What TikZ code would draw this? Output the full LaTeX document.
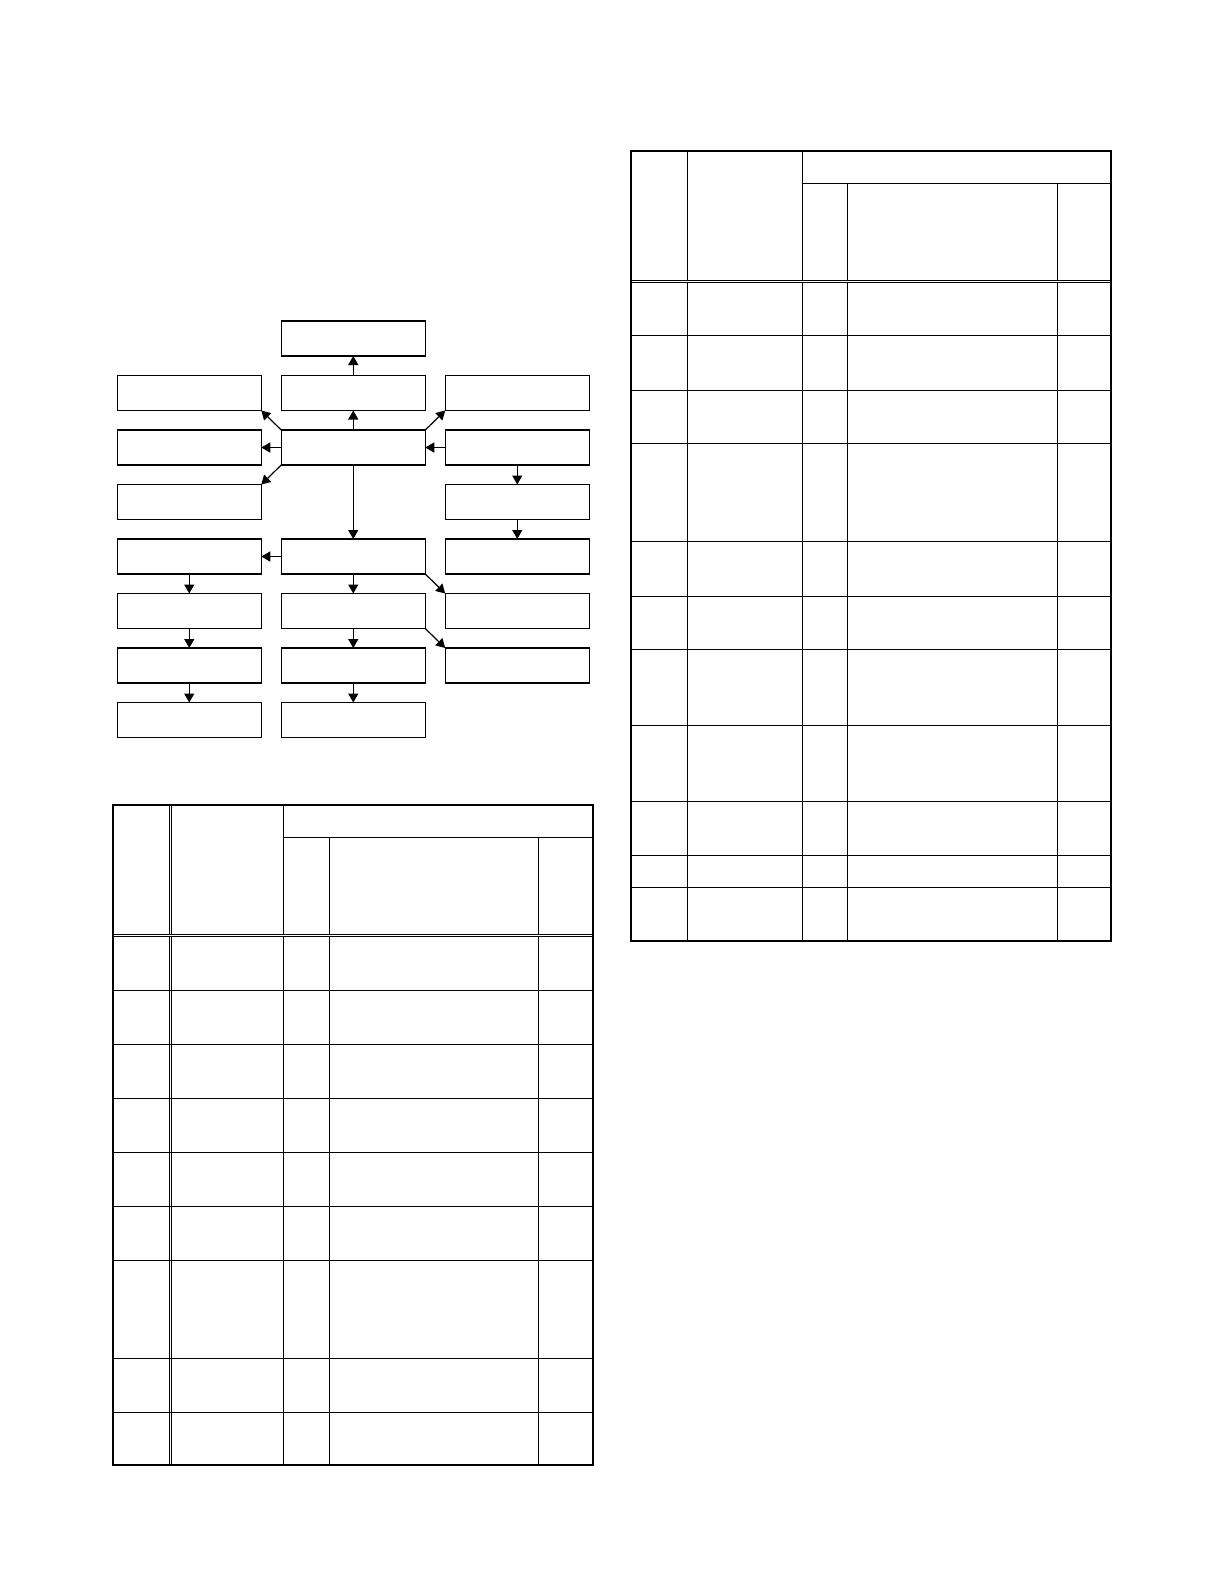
\documentclass[tikz,border=0pt]{standalone}
\usetikzlibrary{positioning}
\usetikzlibrary{arrows.meta}

\begin{document}
\begin{tikzpicture}[x=0.5bp, y=-0.5bp,
    box/.style = {draw, rectangle, line width=0.6bp, minimum width=72bp, minimum height=17.5bp, inner sep=0pt, outer sep=0pt},
    arr/.style = {-{Triangle[length=4.5bp, width=5bp]}, line width=0.6bp},
    frame/.style = {line width=1.1bp},
    rule/.style = {line width=0.5bp},
    twin/.style = {double, line width=0.4bp, double distance=0.5bp},
    node distance = 9.75bp and 10bp]
      \useasboundingbox (0,0) rectangle (1224,1584);
      \node[box](c) at (353.25,447.5) {};
      \node[box](m1)[above=of c]{};
      \node[box](m0)[above=of m1]{};
      \node[box](l2)[left=of c]{};
      \node[box](l1)[above=of l2]{};
      \node[box](l3)[below=of l2]{};
      \node[box](l4)[below=of l3]{};
      \node[box](l5)[below=of l4]{};
      \node[box](l6)[below=of l5]{};
      \node[box](l7)[below=of l6]{};
      \node[box](m4)[right=of l4]{};
      \node[box](m5)[below=of m4]{};
      \node[box](m6)[below=of m5]{};
      \node[box](m7)[below=of m6]{};
      \node[box](r2)[right=of c]{};
      \node[box](r1)[above=of r2]{};
      \node[box](r3)[below=of r2]{};
      \node[box](r4)[below=of r3]{};
      \node[box](r5)[below=of r4]{};
      \node[box](r6)[below=of r5]{};
      \draw[arr] (m1) -- (m0);
      \draw[arr] (c) -- (m1);
      \draw[arr] (c) -- (l2);
      \draw[arr] (c.north west) -- (l1.south east);
      \draw[arr] (c.south west) -- (l3.north east);
      \draw[arr] (c.north east) -- (r1.south west);
      \draw[arr] (r2) -- (c);
      \draw[arr] (r2) -- (r3);
      \draw[arr] (r3) -- (r4);
      \draw[arr] (c) -- (m4);
      \draw[arr] (m4) -- (l4);
      \draw[arr] (m4.south east) -- (r5.north west);
      \draw[arr] (m5.south east) -- (r6.north west);
      \foreach \a/\b in {m4/m5, m5/m6, m6/m7, l4/l5, l5/l6, l6/l7}
        \draw[arr] (\a) -- (\b);

      \draw[twin] (170.5,805) -- (170.5,1465);
      \draw[rule] (283.3,805) -- (283.3,1465);
      \draw[rule] (283.3,837) -- (592.7,837);
      \foreach \x in {329.3,538.3}
        \draw[rule] (\x,837) -- (\x,1465);
      \draw[twin] (112.7,935.3) -- (592.7,935.3);
      \foreach \y in {990,1044,1098,1152,1206,1260,1358.5,1412.5}
        \draw[rule] (112.7,\y) -- (592.7,\y);
      \draw[frame] (112.7,805) rectangle (592.7,1465);

      \draw[twin] (688,151) -- (688,940.7);
      \draw[rule] (802.7,151) -- (802.7,940.7);
      \draw[rule] (802.7,183.3) -- (1110.7,183.3);
      \foreach \x in {847.3,1057.3}
        \draw[rule] (\x,183.3) -- (\x,940.7);
      \draw[twin] (630.7,281.2) -- (1110.7,281.2);
      \foreach \y in {335.9,390.1,443.7,541.8,596,649.6,725.4,801.8,855.5,887.5}
        \draw[rule] (630.7,\y) -- (1110.7,\y);
      \draw[frame] (630.7,151) rectangle (1110.7,940.7);
\end{tikzpicture}
\end{document}
